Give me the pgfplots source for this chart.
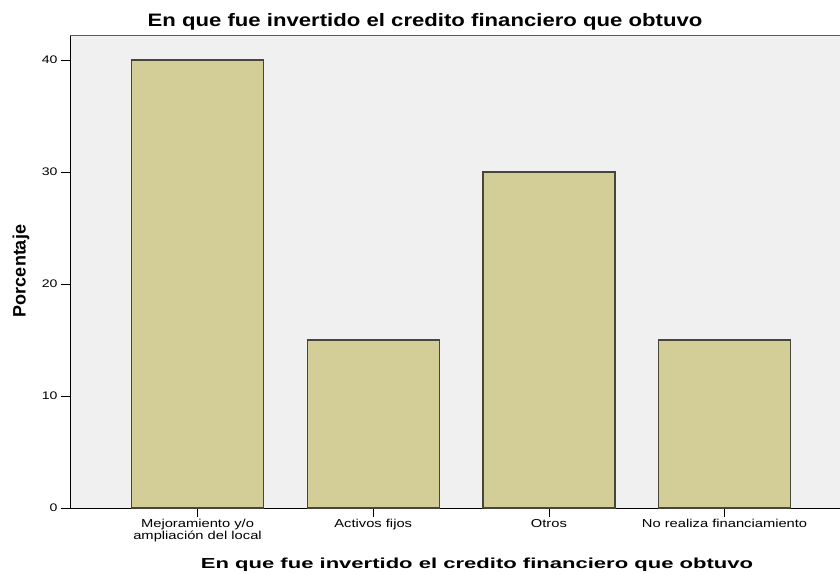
\documentclass[border=0pt]{standalone}
\usepackage{fontspec}
\setmainfont{Liberation Sans}
\newfontfamily\titlefont{Liberation Sans}[FakeStretch=1.23]
\newfontfamily\xlabfont{Liberation Sans}[FakeStretch=1.52]
\newfontfamily\tickfont{Liberation Sans}[FakeStretch=1.28]
\usepackage{pgfplots}
\pgfplotsset{compat=1.18}
\definecolor{barfill}{RGB}{211,206,151}
\definecolor{barline}{RGB}{70,70,60}
\definecolor{plotbg}{RGB}{240,240,240}
\begin{document}
\begin{tikzpicture}[x=1pt,y=1pt]
\path[use as bounding box] (0,0) rectangle (840,573);
\begin{axis}[
  at={(70pt,65pt)}, anchor=south west,
  scale only axis, width=770pt, height=472pt,
  xmin=-0.726, xmax=3.657, ymin=0, ymax=42.14,
  axis x line*=bottom, axis y line*=left,
  axis line style={black, line width=1pt},
  axis background/.style={fill=plotbg},
  ybar, bar width=132pt,
  xtick={0,1,2,3},
  xticklabels={{Mejoramiento y/o\\ampliación del local},{Activos fijos},{Otros},{No realiza financiamiento}},
  xticklabel style={align=center, font=\tickfont\fontsize{11.5}{10}\selectfont, yshift=1pt},
  ytick={0,10,20,30,40},
  yticklabel style={font=\tickfont\fontsize{11}{13}\selectfont},
  /pgf/number format/assume math mode=true,
  tick align=outside, major tick length=9pt,
  tick style={black, line width=0.8pt},
  after end axis/.code={\draw[gray!70!black, line width=1pt] (rel axis cs:0,1) -- (rel axis cs:1,1);},
  clip=false,
]
\addplot[fill=barfill, draw=barline, line width=1.2pt] coordinates {(0,40) (1,15) (2,30) (3,15)};
\end{axis}
\node[anchor=base, font=\titlefont\fontsize{18}{20}\selectfont\bfseries] at (425,546.5) {En que fue invertido el credito financiero que obtuvo};
\node[anchor=base, font=\xlabfont\fontsize{14.5}{16}\selectfont\bfseries] at (477,5) {En que fue invertido el credito financiero que obtuvo};
\node[rotate=90, font=\fontsize{18}{20}\selectfont\bfseries] at (21,302) {Porcentaje};
\end{tikzpicture}
\end{document}
